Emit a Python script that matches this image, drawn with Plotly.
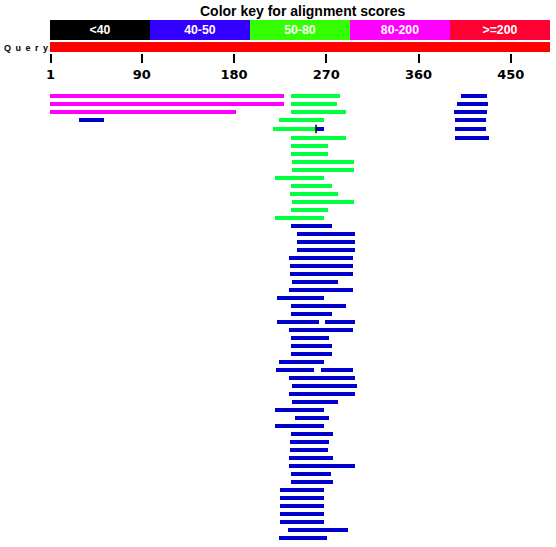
import plotly.graph_objects as go

# ---------------- data ----------------
QUERY_LEN = 488
key_labels = ["<40", "40-50", "50-80", "80-200", ">=200"]
key_colors = ["#000000", "#3300FF", "#33FF00", "#FF00FF", "#FF0033"]
tick_vals = [1, 90, 180, 270, 360, 450]
tick_text = ["1", "90", "180", "270", "360", "450"]

# score class of each hit segment: 1 = 40-50, 2 = 50-80, 3 = 80-200
hit_row = [1, 1, 1, 2, 2, 2, 3, 3, 3, 4, 4, 4, 5, 5, 5, 6, 6,
           7, 8, 9, 10, 11, 12, 13, 14, 15, 16,
           17, 18, 19, 20, 21, 22, 23, 24, 25, 26, 27, 28, 29, 29,
           30, 31, 32, 33, 34, 35, 35, 36, 37, 38, 39, 40, 41, 42,
           43, 44, 45, 46, 47, 48, 49, 50, 51, 52, 53, 54, 55, 56]
hit_start = [1, 237, 402, 1, 237, 398, 1, 237, 396, 30, 225, 397, 219, 261, 397, 237, 397,
             237, 237, 238, 238, 221, 237, 236, 238, 237, 221,
             237, 242, 242, 242, 235, 236, 236, 238, 235, 223, 237, 237, 223, 270,
             235, 237, 237, 237, 225, 222, 266, 235, 238, 235, 238, 221, 240, 221,
             237, 236, 236, 235, 235, 237, 237, 226, 226, 226, 226, 226, 234, 225]
hit_end = [229, 283, 427, 229, 280, 428, 182, 289, 427, 53, 268, 426, 260, 268, 426, 289, 429,
           272, 272, 297, 297, 268, 276, 281, 297, 272, 268,
           276, 298, 298, 298, 296, 296, 296, 281, 296, 268, 289, 276, 263, 298,
           296, 273, 276, 276, 268, 258, 296, 298, 300, 298, 281, 268, 273, 268,
           277, 273, 272, 277, 298, 275, 277, 268, 268, 268, 268, 268, 291, 271]
hit_class = [3, 2, 1, 3, 2, 1, 3, 2, 1, 1, 2, 1, 2, 1, 1, 2, 1,
             2, 2, 2, 2, 2, 2, 2, 2, 2, 2,
             1, 1, 1, 1, 1, 1, 1, 1, 1, 1, 1, 1, 1, 1,
             1, 1, 1, 1, 1, 1, 1, 1, 1, 1, 1, 1, 1, 1,
             1, 1, 1, 1, 1, 1, 1, 1, 1, 1, 1, 1, 1, 1]
sep_row = [5]
sep_pos = [260]

class_colors = {1: "#0000CC", 2: "#00FF40", 3: "#FF00FF"}

# ---------------- layout helpers ----------------
W, H = 556, 547


def row_y(r):
    return 88 + 8 * r + (1 if r == 5 else (2 if r > 5 else 0))


fig = go.Figure()

# colour key
seg = QUERY_LEN / len(key_labels)
fig.add_trace(go.Bar(
    orientation="h",
    y=[30] * len(key_labels),
    base=[i * seg for i in range(len(key_labels))],
    x=[seg] * len(key_labels),
    width=20,
    marker=dict(color=key_colors, line=dict(width=0)),
    text=["<b>%s</b>" % t for t in key_labels],
    textposition="inside",
    insidetextanchor="middle",
    textangle=0,
    textfont=dict(family="Liberation Sans", size=14, color="white"),
    hoverinfo="skip",
    showlegend=False,
))

# query bar
fig.add_trace(go.Bar(
    orientation="h", y=[47], base=[0], x=[QUERY_LEN], width=10,
    marker=dict(color="#FF0000", line=dict(width=0)),
    hoverinfo="skip", showlegend=False,
))

# hits, one trace per score class
for cls in (3, 2, 1):
    idx = [i for i, c in enumerate(hit_class) if c == cls]
    fig.add_trace(go.Bar(
        orientation="h",
        y=[row_y(hit_row[i]) for i in idx],
        base=[hit_start[i] - 1 for i in idx],
        x=[hit_end[i] - hit_start[i] + 1 for i in idx],
        width=4,
        marker=dict(color=class_colors[cls], line=dict(width=0)),
        hoverinfo="skip", showlegend=False,
    ))

# separator marks
fig.add_trace(go.Scatter(
    x=sep_pos, y=[row_y(r) for r in sep_row], mode="markers",
    marker=dict(symbol="line-ns", size=6, line=dict(color="black", width=1.5)),
    hoverinfo="skip", showlegend=False,
))

x0 = -49.5 / 1.0252
x1 = (W - 49.5) / 1.0252

fig.update_layout(
    width=W, height=H, autosize=False,
    margin=dict(l=0, r=0, t=0, b=0, pad=0),
    paper_bgcolor="white", plot_bgcolor="white",
    barmode="overlay", bargap=0,
    xaxis=dict(
        range=[x0, x1], domain=[0, 1], anchor="free", position=1 - 53 / H,
        showgrid=False, zeroline=False, showline=False,
        ticks="outside", ticklen=9, tickwidth=2, tickcolor="black",
        tickvals=tick_vals, ticktext=["<b>%s</b>" % t for t in tick_text],
        tickfont=dict(family="DejaVu Sans", size=13, color="black"),
        fixedrange=True,
    ),
    yaxis=dict(range=[H, 0], domain=[0, 1], visible=False, fixedrange=True),
    annotations=[
        dict(text="<b>Color key for alignment scores</b>", x=303 / W, y=1 - 11 / H,
             xref="paper", yref="paper", xanchor="center", yanchor="middle",
             showarrow=False, font=dict(family="Liberation Sans", size=14, color="black")),
        dict(text="<b>Q\u2002u\u2002e\u2002r\u2002y</b>", x=2 / W, y=1 - 48 / H,
             xref="paper", yref="paper", xanchor="left", yanchor="middle",
             showarrow=False, font=dict(family="Liberation Sans", size=9, color="black")),
    ],
)

fig.write_html("out.html")
